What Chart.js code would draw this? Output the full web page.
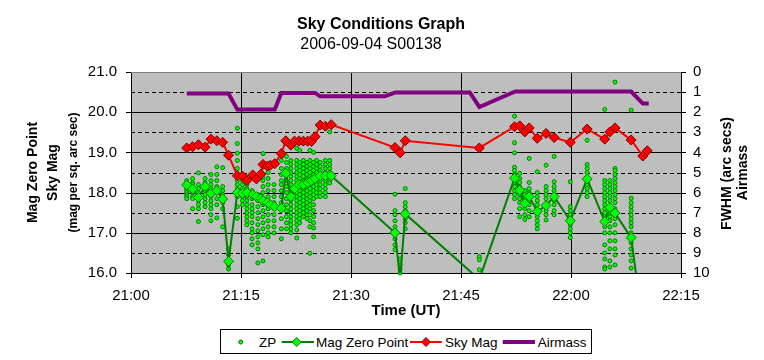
<!DOCTYPE html>
<html><head><meta charset="utf-8">
<script src="https://cdn.jsdelivr.net/npm/chart.js@4.4.1/dist/chart.umd.min.js"></script>
<style>
html,body{margin:0;padding:0;background:#fff;}
#wrap{position:relative;width:764px;height:360px;}
#legend{position:absolute;left:220px;top:329px;}
</style></head><body>
<div id="wrap"><canvas id="c" width="764" height="360"></canvas>
<svg id="legend" width="373" height="26" font-family="Liberation Sans, Arial, sans-serif" font-size="13.5">
  <rect x="0.5" y="0.5" width="371" height="24" fill="#fff" stroke="#000" stroke-width="1"/>
  <circle cx="20.7" cy="13" r="2" fill="#00ff00" stroke="#008000" stroke-width="1"/>
  <text x="39" y="18">ZP</text>
  <line x1="61.7" y1="13" x2="94" y2="13" stroke="#008000" stroke-width="2"/>
  <polygon points="76.7,8.5 81.2,13 76.7,17.5 72.2,13" fill="#00ff00" stroke="#008000" stroke-width="1"/>
  <text x="96" y="18">Mag Zero Point</text>
  <line x1="190" y1="13" x2="221.7" y2="13" stroke="#ff0000" stroke-width="2"/>
  <polygon points="206,8.5 210.5,13 206,17.5 201.5,13" fill="#ff0000" stroke="#800000" stroke-width="1"/>
  <text x="225" y="18">Sky Mag</text>
  <line x1="282.7" y1="13" x2="315" y2="13" stroke="#800080" stroke-width="4"/>
  <text x="317.7" y="18">Airmass</text>
</svg></div>
<script>
// ---- data (minutes after 21:00 UT) ----
const sampleTimes = [7.6, 8.4, 9.2, 10.1, 10.9, 11.7, 12.5, 13.3, 14.5, 15.2, 15.8, 16.6, 17.1, 17.7, 18.0, 18.6, 19.0, 19.6, 20.5, 21.1, 21.8, 22.3, 22.9, 23.5, 24.1, 24.6, 25.1, 25.8, 26.5, 27.3, 36.0, 36.7, 37.4, 47.5, 52.3, 53.0, 53.7, 54.3, 55.4, 56.6, 57.7, 59.9, 62.2, 64.6, 65.3, 66.0, 68.2, 69.8, 70.4];
const skyMag = [19.11, 19.14, 19.19, 19.13, 19.33, 19.29, 19.25, 18.93, 18.42, 18.41, 18.30, 18.44, 18.34, 18.46, 18.70, 18.66, 18.68, 18.72, 18.97, 19.29, 19.18, 19.28, 19.28, 19.28, 19.28, 19.27, 19.39, 19.68, 19.65, 19.69, 19.12, 18.99, 19.29, 19.11, 19.64, 19.66, 19.51, 19.61, 19.35, 19.47, 19.37, 19.25, 19.58, 19.33, 19.51, 19.61, 19.31, 18.91, 19.04];
const magZeroPoint = [18.19, 18.09, 17.88, 18.15, 17.98, 18.05, 17.84, 16.29, 18.0, 17.98, 18.0, 17.95, 17.9, 17.85, 17.8, 17.75, 17.7, 17.65, 17.61, 18.48, 17.9, 18.1, 18.2, 18.2, 18.25, 18.3, 18.35, 18.42, 18.42, 18.42, 17.0, 15.85, 17.47, 15.84, 18.36, 18.06, 17.73, 17.9, 17.53, 17.68, 17.9, 17.3, 18.34, 17.28, 17.63, 17.49, 16.88, 14.7, 14.9];
const airmassTimes = [7.6, 13.3, 14.5, 19.6, 20.5, 25.1, 25.8, 34.6, 36.0, 46.2, 47.5, 52.4, 68.2, 69.8, 70.6];
const airmass = [1.07, 1.07, 1.87, 1.87, 1.04, 1.04, 1.21, 1.21, 1.02, 1.02, 1.74, 0.97, 0.97, 1.57, 1.57];
const zpTimes = [7.6, 8.4, 9.2, 10.1, 10.9, 11.7, 12.5, 13.3, 14.5, 15.2, 15.8, 16.5, 17.3, 18.0, 18.7, 19.5, 20.5, 21.2, 21.8, 22.6, 23.0, 23.5, 24.0, 24.4, 24.9, 25.3, 25.8, 26.5, 27.1, 36.0, 36.7, 37.4, 47.5, 52.3, 53.0, 53.7, 54.3, 55.4, 56.6, 57.7, 59.9, 62.2, 64.6, 65.3, 66.0, 68.2];
const zpMags = [
  [18.3, 18.2, 18.15, 18.1, 18.05, 18.0, 17.95, 17.9, 17.85],
  [18.35, 18.25, 18.2, 18.1, 18.05, 18.0, 17.9, 17.85, 17.6],
  [18.49, 18.2, 18.1, 18.0, 17.9, 17.8, 17.7, 17.6, 17.28],
  [18.35, 18.25, 18.15, 18.05, 17.95, 17.85, 17.75, 17.65],
  [18.45, 18.3, 18.2, 18.1, 18.0, 17.9, 17.8, 17.7, 17.6, 17.45, 17.3],
  [18.64, 18.45, 18.3, 18.15, 18.0, 17.85, 17.7, 17.37],
  [18.62, 18.15, 18.05, 17.95, 17.85, 17.75, 17.6, 17.15],
  [16.6, 16.45, 16.3, 16.2, 16.1],
  [19.6, 19.22, 18.98, 18.8, 18.6, 18.4, 18.3, 18.2, 18.1, 18.0, 17.9, 17.65, 17.36],
  [18.3, 18.2, 18.1, 17.9, 17.8, 17.7],
  [18.2, 18.1, 18.0, 17.9, 17.8, 17.7, 17.6, 17.5, 17.4, 17.3, 17.2],
  [18.05, 17.95, 17.85, 17.7, 17.6, 17.5, 17.4, 17.25, 17.1, 17.0, 16.85, 16.7],
  [17.95, 17.8, 17.65, 17.5, 17.35, 17.2, 17.05, 16.9, 16.75, 16.6, 16.25],
  [18.97, 18.4, 18.3, 18.15, 18.0, 17.85, 17.7, 17.55, 17.4, 17.25, 17.1, 16.95, 16.3],
  [18.5, 18.35, 18.2, 18.05, 17.9, 17.75, 17.6, 17.45, 17.3, 17.15, 17.0, 16.9],
  [18.2, 18.05, 17.9, 17.75, 17.6, 17.45, 17.3, 17.15, 17.0],
  [18.9, 18.8, 18.6, 18.45, 18.3, 18.2, 18.05, 17.9, 17.75, 17.6, 17.35, 17.1, 16.85],
  [18.9, 18.75, 18.6, 18.45, 18.3, 18.15, 18.0, 17.85, 17.7, 17.55, 17.4, 17.25, 17.1],
  [18.8, 18.7, 18.6, 18.5, 18.4, 18.3, 18.2, 18.1, 18.0, 17.9, 17.8, 17.7, 17.6, 17.5, 17.4, 17.3, 17.2, 17.1, 17.0],
  [19.1, 18.8, 18.7, 18.6, 18.5, 18.4, 18.3, 18.2, 18.1, 18.0, 17.9, 17.8, 17.7, 17.6, 17.5, 17.4, 17.3, 17.2, 17.07, 16.87],
  [19.05, 18.75, 18.65, 18.55, 18.45, 18.35, 18.25, 18.15, 18.05, 17.95, 17.85, 17.75, 17.65, 17.55, 17.45, 17.35, 17.25],
  [18.8, 18.7, 18.6, 18.5, 18.4, 18.3, 18.2, 18.1, 18.0, 17.9, 17.8, 17.7, 17.6, 17.5, 17.4],
  [18.75, 18.65, 18.55, 18.45, 18.35, 18.25, 18.15, 18.05, 17.95, 17.85, 17.75, 17.65, 17.55, 17.45, 17.35],
  [19.05, 18.8, 18.7, 18.6, 18.5, 18.4, 18.3, 18.2, 18.1, 18.0, 17.9, 17.8, 17.7, 17.6, 17.45, 17.3, 17.15, 16.49],
  [19.0, 18.75, 18.65, 18.55, 18.45, 18.35, 18.25, 18.15, 18.05, 17.95, 17.85, 17.7, 17.55, 17.4, 17.25, 17.12, 16.9],
  [18.8, 18.7, 18.6, 18.5, 18.4, 18.3, 18.2, 18.1, 18.0, 17.9],
  [18.75, 18.65, 18.55, 18.42, 18.3, 18.2, 18.1, 18.0, 17.9],
  [18.8, 18.7, 18.6, 18.5, 18.4, 18.3, 18.2, 18.1, 18.0, 17.9],
  [19.51, 18.8, 18.7, 18.6, 18.5, 18.4, 18.3, 18.24],
  [17.96, 17.55, 17.45, 17.3, 17.15, 17.0, 16.85, 16.7, 16.58],
  [16.35, 16.2, 16.1, 16.0],
  [18.1, 17.75, 17.65, 17.55, 17.47, 17.35, 17.25, 17.1],
  [16.41, 16.33, 16.08],
  [19.9, 19.24, 18.99, 18.63, 18.55, 18.45, 18.36, 18.25, 18.15, 18.05, 17.95, 17.85],
  [18.48, 18.35, 18.25, 18.15, 18.06, 17.95, 17.85, 17.75, 17.6, 17.4],
  [18.05, 17.95, 17.85, 17.73, 17.6, 17.45, 17.33],
  [18.85, 18.25, 18.1, 18.0, 17.9, 17.8, 17.7, 17.55, 17.4],
  [18.52, 18.0, 17.9, 17.8, 17.7, 17.53, 17.4, 17.3, 17.2, 17.1],
  [18.68, 18.15, 18.05, 17.95, 17.85, 17.68, 17.55, 17.45, 17.32],
  [18.9, 18.27, 18.15, 18.05, 17.9, 17.8, 17.7, 17.55, 17.45],
  [18.27, 17.65, 17.55, 17.45, 17.3, 17.2, 17.1, 17.0, 16.88],
  [19.3, 18.7, 18.6, 18.5, 18.34, 18.2, 18.1, 18.0, 17.9],
  [20.07, 18.3, 18.2, 18.1, 18.0, 17.9, 17.8, 17.7, 17.6, 17.5, 17.4, 17.28, 17.15, 17.0, 16.7, 16.5, 16.35, 16.15, 16.1],
  [18.3, 18.2, 18.1, 18.0, 17.9, 17.8, 17.63, 17.5, 17.4, 17.3, 17.15, 17.0, 16.8, 16.6, 16.3, 16.15],
  [20.75, 18.6, 18.55, 18.45, 18.35, 18.25, 18.15, 18.05, 17.95, 17.85, 17.75, 17.6, 17.49, 17.35, 17.2, 17.0, 16.8, 16.6, 16.45, 16.2],
  [20.05, 17.86, 17.75, 17.65, 17.55, 17.45, 17.35, 17.25, 17.15, 17.0, 16.88, 16.75, 16.6, 16.45, 16.3, 16.12]
];
const titleText = 'Sky Conditions Graph';
const subtitleText = '2006-09-04 S00138';
const xTitle = 'Time (UT)';
const leftTitles = ['Mag Zero Point', 'Sky Mag', '(mag per sq. arc sec)'];
const rightTitles = ['FWHM (arc secs)', 'Airmass'];

// ---- chart ----
const FONT = '"Liberation Sans", Arial, sans-serif';
Chart.defaults.font.family = FONT;
Chart.defaults.color = '#000';

const pc = document.createElement('canvas'); pc.width = 4; pc.height = 4;
const pcx = pc.getContext('2d');
pcx.fillStyle = '#c0c0c0'; pcx.fillRect(0, 0, 4, 4);
pcx.fillStyle = '#a8bca8'; pcx.fillRect(0, 0, 1, 1);
pcx.fillStyle = '#b4b4b4'; pcx.fillRect(2, 2, 1, 1);

const pairs = (ts, vs) => ts.map((t, i) => ({x: t, y: vs[i]}));
const zpData = zpTimes.flatMap((t, i) => zpMags[i].map(v => ({x: t, y: v})));

const deco = {
  id: 'deco',
  beforeDraw(chart) {
    const {ctx, chartArea: a} = chart;
    ctx.save();
    ctx.fillStyle = ctx.createPattern(pc, 'repeat');
    ctx.fillRect(a.left, a.top, a.right - a.left, a.bottom - a.top);
    ctx.restore();
  },
  beforeDatasetsDraw(chart) {
    const {ctx, chartArea: a, scales} = chart;
    ctx.save();
    ctx.strokeStyle = '#000'; ctx.lineWidth = 1;
    scales.y1.ticks.forEach(t => {
      if (t.value <= 0 || t.value >= 10) return;
      const py = Math.round(scales.y1.getPixelForValue(t.value)) + 0.5;
      ctx.setLineDash(t.value % 2 === 0 ? [] : [4, 3]);
      ctx.beginPath(); ctx.moveTo(a.left, py); ctx.lineTo(a.right, py); ctx.stroke();
    });
    ctx.setLineDash([]);
    scales.x.ticks.forEach(t => {
      if (t.value <= 0 || t.value >= 75) return;
      const px = Math.round(scales.x.getPixelForValue(t.value)) + 0.5;
      ctx.beginPath(); ctx.moveTo(px, a.top); ctx.lineTo(px, a.bottom); ctx.stroke();
    });
    ctx.strokeStyle = '#808080';
    ctx.beginPath(); ctx.moveTo(a.left, a.top + 0.5); ctx.lineTo(a.right, a.top + 0.5); ctx.stroke();
    ctx.strokeStyle = '#000';
    scales.y.ticks.forEach(t => {
      const py = Math.round(scales.y.getPixelForValue(t.value)) + 0.5;
      ctx.beginPath(); ctx.moveTo(a.left - 5, py); ctx.lineTo(a.left, py); ctx.stroke();
    });
    scales.y1.ticks.forEach(t => {
      const py = Math.round(scales.y1.getPixelForValue(t.value)) + 0.5;
      ctx.beginPath(); ctx.moveTo(a.right, py); ctx.lineTo(a.right + 5, py); ctx.stroke();
    });
    scales.x.ticks.forEach(t => {
      const px = Math.round(scales.x.getPixelForValue(t.value)) + 0.5;
      ctx.beginPath(); ctx.moveTo(px, a.bottom); ctx.lineTo(px, a.bottom + 5); ctx.stroke();
    });
    ctx.restore();
  },
  afterDraw(chart) {
    const {ctx, chartArea: a} = chart;
    ctx.save();
    ctx.fillStyle = '#000';
    ctx.textAlign = 'center'; ctx.textBaseline = 'middle';
    ctx.font = 'bold 16px ' + FONT;
    ctx.fillText(titleText, 381, 25);
    ctx.font = '16px ' + FONT;
    ctx.fillText(subtitleText, 371, 45);
    ctx.font = 'bold 15px ' + FONT;
    ctx.fillText(xTitle, (a.left + a.right) / 2, 311);
    const rot = (txt, x, y, font) => {
      ctx.save(); ctx.translate(x, y); ctx.rotate(-Math.PI / 2);
      ctx.font = font; ctx.fillText(txt, 0, 0); ctx.restore();
    };
    const cy = (a.top + a.bottom) / 2;
    rot(leftTitles[0], 33, cy, 'bold 14px ' + FONT);
    rot(leftTitles[1], 53, cy, 'bold 14px ' + FONT);
    rot(leftTitles[2], 74, cy, 'bold 12px ' + FONT);
    rot(rightTitles[0], 727, cy + 1, 'bold 14px ' + FONT);
    rot(rightTitles[1], 743, cy, 'bold 14px ' + FONT);
    ctx.restore();
  }
};

new Chart(document.getElementById('c'), {
  type: 'line',
  data: {
    datasets: [
      {label: 'Airmass', data: pairs(airmassTimes, airmass), yAxisID: 'y1', borderColor: '#800080', borderWidth: 4, pointRadius: 0, order: 0, clip: 0},
      {label: 'Sky Mag', data: pairs(sampleTimes, skyMag), yAxisID: 'y', borderColor: '#ff0000', borderWidth: 2,
        pointStyle: 'rectRot', pointRadius: 5, pointBackgroundColor: '#ff0000', pointBorderColor: '#800000', pointBorderWidth: 1, order: 1, clip: 0},
      {label: 'Mag Zero Point', data: pairs(sampleTimes, magZeroPoint), yAxisID: 'y', borderColor: '#008000', borderWidth: 2,
        pointStyle: 'rectRot', pointRadius: 5, pointBackgroundColor: '#00ff00', pointBorderColor: '#008000', pointBorderWidth: 1, order: 2, clip: 0},
      {label: 'ZP', data: zpData, yAxisID: 'y', showLine: false, pointStyle: 'circle', pointRadius: 2, pointBackgroundColor: '#00ff00', pointBorderColor: '#008000', pointBorderWidth: 1, order: 3, clip: 3}
    ]
  },
  options: {
    responsive: false, animation: false, devicePixelRatio: 1,
    layout: {padding: {top: 72, left: 0, right: 0, bottom: 0}},
    plugins: {legend: {display: false}, title: {display: false}, tooltip: {enabled: false}},
    elements: {line: {tension: 0}},
    scales: {
      x: {type: 'linear', min: 0, max: 75,
        ticks: {stepSize: 15, padding: 14, maxRotation: 0, autoSkip: false, font: {size: 15},
          callback: v => { const m = 21 * 60 + v; return Math.floor(m / 60) + ':' + String(m % 60).padStart(2, '0'); }},
        grid: {display: false, drawTicks: false}, border: {display: true, color: '#000', width: 1},
        afterFit: s => { s.height = 87; }},
      y: {position: 'left', min: 16, max: 21,
        ticks: {stepSize: 1, padding: 14, autoSkip: false, font: {size: 15}, callback: v => v.toFixed(1)},
        grid: {display: false, drawTicks: false}, border: {display: true, color: '#000', width: 1},
        afterFit: s => { s.width = 131; }},
      y1: {position: 'right', min: 0, max: 10, reverse: true,
        ticks: {stepSize: 1, padding: 12, autoSkip: false, font: {size: 15}},
        grid: {display: false, drawTicks: false}, border: {display: true, color: '#000', width: 1},
        afterFit: s => { s.width = 83; }}
    }
  },
  plugins: [deco]
});
</script>
</body></html>
